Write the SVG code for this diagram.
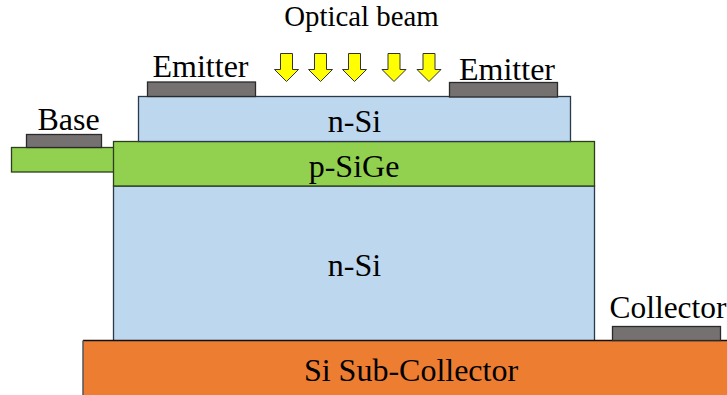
<svg xmlns="http://www.w3.org/2000/svg" width="727" height="395" viewBox="0 0 727 395">
<style>
text{font-family:"Liberation Serif","Times New Roman",serif;fill:#000;text-anchor:middle;font-size:32px}
.si{fill:#bdd7ee;stroke:#2a3a48;stroke-width:1.3}
.sg{fill:#92d050;stroke:#2c3e1c;stroke-width:1.3}
.m{fill:#767171;stroke:#2a2a2a;stroke-width:1.3}
.sub{fill:#ed7d31}
.a{fill:#ffff00;stroke:#333;stroke-width:1}
</style>
<rect width="727" height="395" fill="#fff"/>
<g id="collector-layer"><rect class="si" x="113.500" y="186" width="481" height="155"/><text x="354.500" y="275.500">n-Si</text></g>
<g id="sub-collector"><rect class="sub" x="83" y="340.500" width="644" height="54.500"/><path d="M83 340.500H727" stroke="#111" stroke-width="1.300" fill="none"/><path d="M83 340.500V395" stroke="#555" stroke-width="1.500" fill="none"/><text x="411" y="381">Si Sub-Collector</text></g>
<g id="base-layer"><rect class="sg" x="11.500" y="147.500" width="103" height="24.500"/><rect class="sg" x="113.500" y="141.500" width="481" height="44.500"/><text x="354" y="176.500">p-SiGe</text></g>
<g id="emitter-layer"><rect class="si" x="138.500" y="96.500" width="432" height="45"/><text x="354.500" y="131.500">n-Si</text></g>
<g id="base-contact"><rect class="m" x="26.500" y="134.500" width="75" height="13"/><text x="68.500" y="130">Base</text></g>
<g id="emitter-left"><rect class="m" x="147.500" y="82" width="108" height="14.500"/><text x="200.500" y="77">Emitter</text></g>
<g id="emitter-right"><rect class="m" x="449.500" y="82.500" width="108" height="14.500"/><text x="507" y="79.500">Emitter</text></g>
<g id="collector-contact"><rect class="m" x="612.500" y="326.500" width="108" height="14"/><text x="668" y="318" style="font-size:31.400px">Collector</text></g>
<g id="optical-beam"><text x="361.500" y="26" style="font-size:28.800px">Optical beam</text>
<path id="a1" class="a" d="M280.500 53.500H292.500V69.500H298.500L286.500 81.500L274.500 69.500H280.500Z"/>
<path id="a2" class="a" d="M314.500 53.500H326.500V69.500H332.500L320.500 81.500L308.500 69.500H314.500Z"/>
<path id="a3" class="a" d="M348.500 53.500H360.500V69.500H366.500L354.500 81.500L342.500 69.500H348.500Z"/>
<path id="a4" class="a" d="M388 53.500H400V69.500H406L394 81.500L382 69.500H388Z"/>
<path id="a5" class="a" d="M423 53.500H435V69.500H441L429 81.500L417 69.500H423Z"/>
</g>
<g id="connectors"></g>
</svg>
